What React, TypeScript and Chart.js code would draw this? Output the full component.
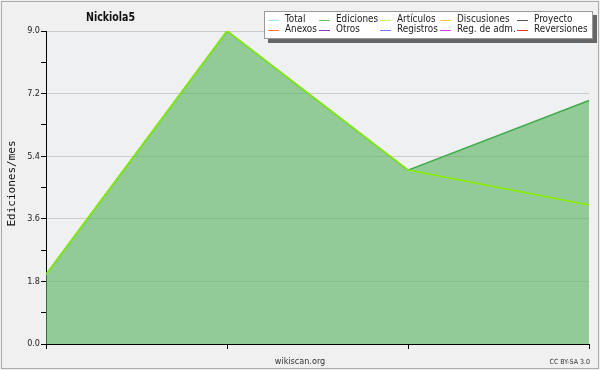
import React, { useEffect, useRef } from "react";
import { Chart, registerables } from "chart.js";

Chart.register(...registerables);

const title = "Nickiola5";
const yAxisTitle = "Ediciones/mes";
const months = ["m1", "m2", "m3", "m4"];
const edicionesValues = [2.0, 9.0, 5.0, 7.0];
const articulosValues = [2.0, 9.0, 5.0, 4.0];
const yTicks = [0, 0.9, 1.8, 2.7, 3.6, 4.5, 5.4, 6.3, 7.2, 8.1, 9.0];
const legendRow1 = ["Total", "Ediciones", "Artículos", "Discusiones", "Proyecto"];
const legendRow2 = ["Anexos", "Otros", "Registros", "Reg. de adm.", "Reversiones"];
const legendColors1 = ["#a8e4e0", "#6cc070", "#c8ee60", "#ffcc55", "#555555"];
const legendColors2 = ["#ff7a45", "#8a3cc8", "#7a7aee", "#cc44dd", "#ee3333"];
const footerCenter = "wikiscan.org";
const footerRight = "CC BY-SA 3.0";

const FONT = "'DejaVu Sans Condensed', 'DejaVu Sans', sans-serif";

function scaledText(ctx: any, text: string, x: number, y: number, sx: number) {
  ctx.save();
  ctx.translate(x, y);
  ctx.scale(sx, 1);
  ctx.fillText(text, 0, 0);
  ctx.restore();
}

const decorPlugin = {
  id: "decor",
  beforeDraw(chart: any) {
    const { ctx, chartArea } = chart;
    ctx.save();
    ctx.fillStyle = "#f0f0f0";
    ctx.fillRect(0, 0, chart.width, chart.height);
    ctx.fillStyle = "#eff0f2";
    ctx.fillRect(chartArea.left, chartArea.top, chartArea.right - chartArea.left, chartArea.bottom - chartArea.top);
    ctx.strokeStyle = "#aaaaaa";
    ctx.lineWidth = 1;
    ctx.strokeRect(1.5, 1.5, chart.width - 3, chart.height - 3);
    ctx.restore();
  },
  afterDraw(chart: any) {
    const { ctx, chartArea } = chart;
    ctx.save();
    // title
    ctx.fillStyle = "#111";
    ctx.font = "bold 13px " + FONT;
    ctx.textBaseline = "middle";
    ctx.textAlign = "left";
    const tw = ctx.measureText(title).width;
    scaledText(ctx, title, 86, 17.5, 49 / tw);
    // y axis title
    ctx.save();
    ctx.translate(12, (chartArea.top + chartArea.bottom) / 2 - 4);
    ctx.rotate(-Math.PI / 2);
    ctx.textAlign = "center";
    ctx.font = "11px 'DejaVu Sans Mono', monospace";
    ctx.fillStyle = "#111";
    ctx.fillText(yAxisTitle, 0, 0);
    ctx.restore();
    // legend
    const bx = 264, by = 11, bw = 329, bh = 28;
    ctx.fillStyle = "#666";
    ctx.fillRect(bx + 4, by + 4, bw, bh);
    ctx.fillStyle = "#ffffff";
    ctx.fillRect(bx, by, bw, bh);
    ctx.strokeStyle = "#999";
    ctx.strokeRect(bx + 0.5, by + 0.5, bw - 1, bh - 1);
    const cols = [268, 319, 380, 440, 517];
    const rows = [19.5, 29.5];
    ctx.font = "11px " + FONT;
    ctx.textAlign = "left";
    const rowsData = [
      [legendRow1, legendColors1],
      [legendRow2, legendColors2],
    ];
    const sx = 52.5 / ctx.measureText("Discusiones").width;
    rowsData.forEach(([labels, colors], r) => {
      (labels as string[]).forEach((lab, i) => {
        const x = cols[i];
        const y = rows[r];
        ctx.strokeStyle = (colors as string[])[i];
        ctx.lineWidth = 1;
        ctx.beginPath();
        ctx.moveTo(x, Math.round(y) + 0.5);
        ctx.lineTo(x + 11, Math.round(y) + 0.5);
        ctx.stroke();
        ctx.fillStyle = "#222";
        scaledText(ctx, lab, x + 17, y, sx);
      });
    });
    // footer
    ctx.fillStyle = "#333";
    ctx.font = "9px " + FONT;
    ctx.textAlign = "center";
    ctx.fillText(footerCenter, 300, 361.5);
    ctx.font = "7px " + FONT;
    ctx.textAlign = "right";
    ctx.fillText(footerRight, 590, 362.5);
    ctx.restore();
  },
};

export default function App() {
  const ref = useRef<HTMLCanvasElement>(null);
  useEffect(() => {
    document.body.style.margin = "0";
    const chart = new Chart(ref.current!, {
      type: "line",
      data: {
        labels: months,
        datasets: [
          {
            label: "Artículos",
            data: articulosValues,
            borderColor: "#88ee00",
            borderWidth: 1.5,
            pointRadius: 0,
            fill: false,
            tension: 0,
            order: 0,
          },
          {
            label: "Ediciones",
            data: edicionesValues,
            borderColor: "#3fae4a",
            backgroundColor: "rgba(84,178,92,0.6)",
            borderWidth: 1.5,
            pointRadius: 0,
            fill: "origin",
            tension: 0,
            order: 1,
          },
        ],
      },
      options: {
        animation: false,
        responsive: false,
        layout: { padding: { left: 0, right: 11, top: 31, bottom: 0 } },
        plugins: { legend: { display: false }, title: { display: false }, tooltip: { enabled: false } },
        scales: {
          x: {
            type: "category",
            offset: false,
            border: { color: "#000", width: 1 },
            grid: { drawOnChartArea: false, tickLength: 5, tickColor: "#000" },
            ticks: { callback: () => "", maxRotation: 0 },
            afterFit: (s: any) => { s.height = 26; },
          },
          y: {
            min: 0,
            max: 9,
            border: { color: "#000", width: 1 },
            afterBuildTicks: (s: any) => { s.ticks = yTicks.map((v) => ({ value: v })); },
            grid: {
              color: (c: any) => (c.index % 2 === 0 ? "#cccccc" : "rgba(0,0,0,0)"),
              tickColor: "#000",
              tickLength: 5,
            },
            ticks: {
              padding: 1,
              color: "#222",
              font: { family: FONT, size: 9 },
              callback: (v: any, i: number) => (i % 2 === 0 ? Number(v).toFixed(1) : ""),
            },
            afterFit: (s: any) => { s.width = 46; },
          },
        },
      },
      plugins: [decorPlugin],
    });
    return () => chart.destroy();
  }, []);
  return <canvas ref={ref} width={600} height={370} style={{ display: "block" }} />;
}
